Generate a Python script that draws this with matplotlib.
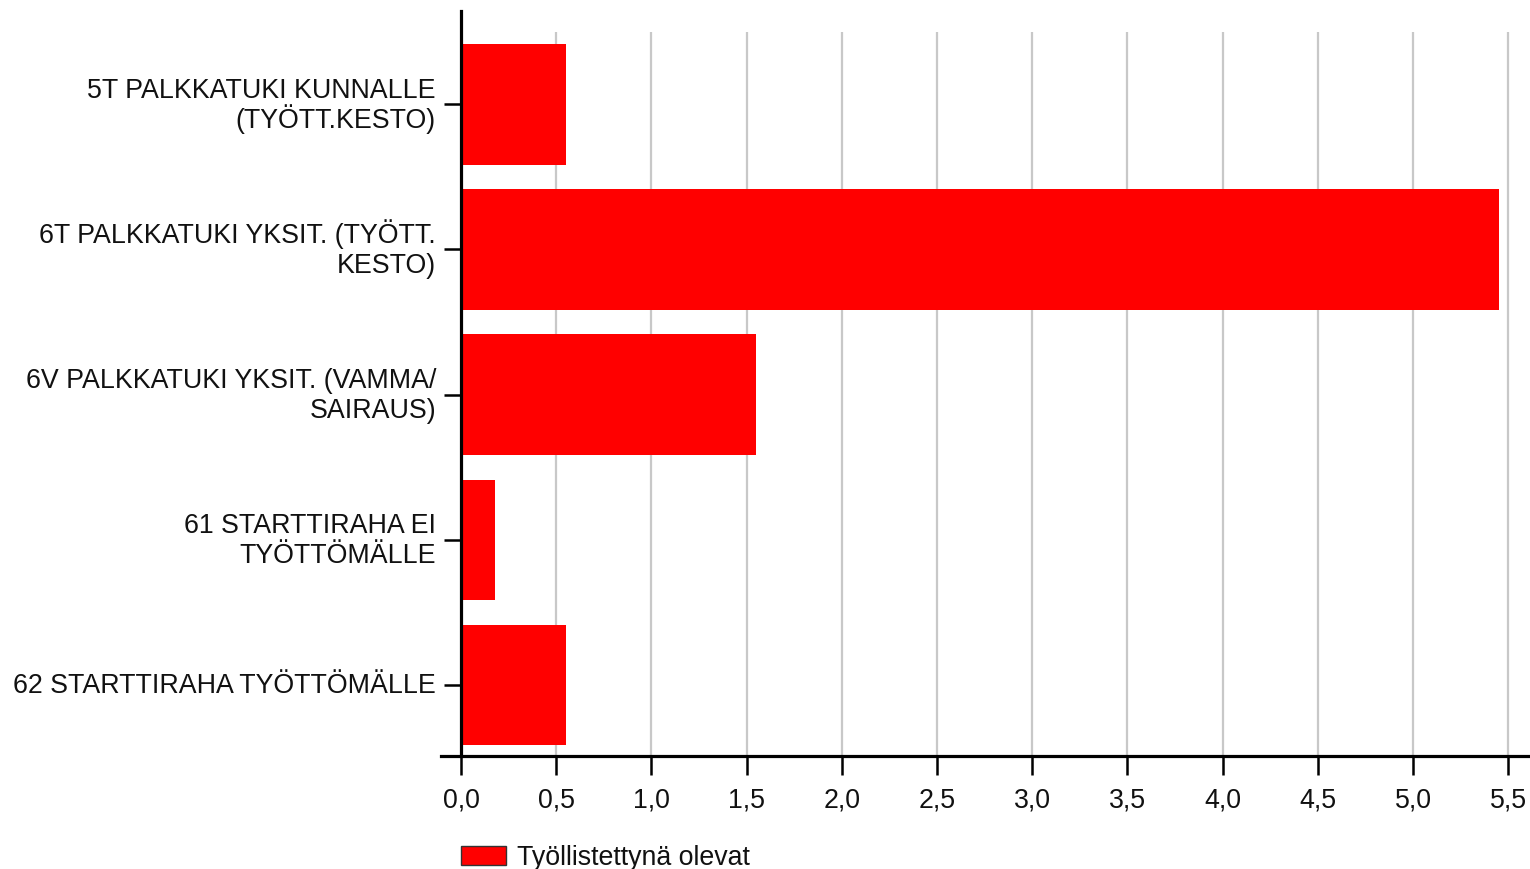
import matplotlib.pyplot as plt
from matplotlib.patches import Rectangle
from matplotlib.ticker import FuncFormatter

plt.rcParams['font.family'] = ['Liberation Sans', 'DejaVu Sans']

categories = ['5T PALKKATUKI KUNNALLE\n(TYÖTT.KESTO)',
              '6T PALKKATUKI YKSIT. (TYÖTT.\nKESTO)',
              '6V PALKKATUKI YKSIT. (VAMMA/\nSAIRAUS)',
              '61 STARTTIRAHA EI\nTYÖTTÖMÄLLE',
              '62 STARTTIRAHA TYÖTTÖMÄLLE']
values = [0.55, 5.45, 1.55, 0.18, 0.55]
series_name = 'Työllistettynä olevat'
xticks = [0, 0.5, 1, 1.5, 2, 2.5, 3, 3.5, 4, 4.5, 5, 5.5]

FS = 19.3
TXT = '#111111'
W, H = 1530, 870
fig = plt.figure(figsize=(W / 100, H / 100), dpi=100)
# axes box in pixels: left 441, right 1528, top 12, bottom 757
ax = fig.add_axes([441 / W, 1 - 757 / H, (1528 - 441) / W, (757 - 12) / H])

ypos = list(range(len(categories)))
ax.barh(ypos, values, height=0.83, color='#ff0000', zorder=2)

ax.set_xlim(-0.105, 5.604)
ax.set_ylim(4.49, -0.643)
ax.vlines(xticks[1:], -0.5, 4.49, color='#c8c8c8', lw=1.6, zorder=1)

for s in ['top', 'right']:
    ax.spines[s].set_visible(False)
ax.spines['left'].set_position(('data', 0))
ax.spines['left'].set_linewidth(2.3)
ax.spines['bottom'].set_linewidth(2.3)
ax.spines['left'].set_zorder(3)

ax.set_yticks(ypos)
ax.set_yticklabels([''] * len(ypos))
ax.tick_params(axis='y', length=12, width=1.8)

# category labels, one text per line so the line spacing stays even
line_step = 30 * 0.72
cap_half = 0.358 * FS
for i, lab in enumerate(categories):
    lines = lab.split('\n')
    n = len(lines)
    for j, line in enumerate(lines):
        dy = -(j - (n - 1) / 2) * line_step - cap_half + 1.5
        ax.annotate(line, xy=(0, i), xytext=(-18, dy), textcoords='offset points',
                    ha='right', va='baseline', fontsize=FS, color=TXT,
                    annotation_clip=False)

ax.set_xticks(xticks)
ax.xaxis.set_major_formatter(FuncFormatter(lambda v, p: f'{v:.1f}'.replace('.', ',')))
ax.tick_params(axis='x', length=14, width=1.8, pad=8, labelsize=FS, labelcolor=TXT)

# legend
fig.patches.append(Rectangle((461 / W, 1 - 866 / H), 45 / W, 19 / H,
                             transform=fig.transFigure, facecolor='#ff0000',
                             edgecolor='#333333', lw=1))
fig.text(517 / W, 1 - 865 / H, series_name, fontsize=FS, va='baseline',
         ha='left', color=TXT)

fig.savefig('out.png', dpi=100)
